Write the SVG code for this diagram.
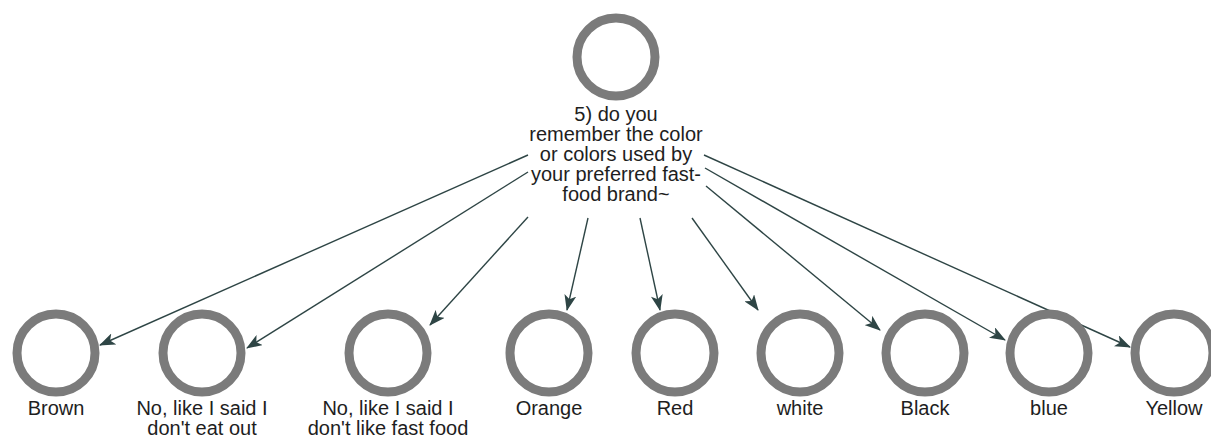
<svg xmlns="http://www.w3.org/2000/svg" width="1211" height="443" viewBox="0 0 1211 443">
<style>
.ring{fill:#fff;stroke:#7b7b7b;stroke-width:9}
.lbl{font-family:"Liberation Sans",Arial,sans-serif;font-size:20px;fill:#1e1e1e;text-anchor:middle}
.edge{stroke:#2e4545;stroke-width:1.4;fill:none;marker-end:url(#ah)}
</style>
<defs>
<marker id="ah" markerUnits="userSpaceOnUse" markerWidth="16" markerHeight="12" viewBox="0 0 16 12" refX="15" refY="6" orient="auto">
<path d="M0,0 L16,6 L0,12 L4,6 Z" fill="#2e4545"/>
</marker>
</defs>
<rect width="1211" height="443" fill="#fff"/>
<g id="connectors">
<line class="edge" x1="528" y1="155" x2="100" y2="345"/>
<line class="edge" x1="528" y1="172" x2="247" y2="348"/>
<line class="edge" x1="528" y1="217" x2="430" y2="325"/>
<line class="edge" x1="588" y1="218" x2="567" y2="310"/>
<line class="edge" x1="640" y1="218" x2="660" y2="310"/>
<line class="edge" x1="692" y1="218" x2="758" y2="310"/>
<line class="edge" x1="706" y1="186" x2="880" y2="330"/>
<line class="edge" x1="705" y1="168" x2="1005" y2="340"/>
<line class="edge" x1="704" y1="155" x2="1130" y2="347"/>
</g>
<g id="root">
<circle class="ring" cx="616" cy="57" r="39"/>
<text class="lbl" x="616" y="121">5) do you</text>
<text class="lbl" x="616" y="141">remember the color</text>
<text class="lbl" x="616" y="161">or colors used by</text>
<text class="lbl" x="616" y="181">your preferred fast-</text>
<text class="lbl" x="616" y="201">food brand~</text>
</g>
<g id="n-brown"><circle class="ring" cx="56" cy="353" r="39"/><text class="lbl" x="56" y="415">Brown</text></g>
<g id="n-eatout"><circle class="ring" cx="202" cy="353" r="39"/><text class="lbl" x="202" y="415">No, like I said I</text><text class="lbl" x="202" y="435">don't eat out</text></g>
<g id="n-fastfood"><circle class="ring" cx="388" cy="353" r="39"/><text class="lbl" x="388" y="415">No, like I said I</text><text class="lbl" x="388" y="435">don't like fast food</text></g>
<g id="n-orange"><circle class="ring" cx="549" cy="353" r="39"/><text class="lbl" x="549" y="415">Orange</text></g>
<g id="n-red"><circle class="ring" cx="675" cy="353" r="39"/><text class="lbl" x="675" y="415">Red</text></g>
<g id="n-white"><circle class="ring" cx="800" cy="353" r="39"/><text class="lbl" x="800" y="415">white</text></g>
<g id="n-black"><circle class="ring" cx="925" cy="353" r="39"/><text class="lbl" x="925" y="415">Black</text></g>
<g id="n-blue"><circle class="ring" cx="1049" cy="353" r="39"/><text class="lbl" x="1049" y="415">blue</text></g>
<g id="n-yellow"><circle class="ring" cx="1174" cy="353" r="39"/><text class="lbl" x="1174" y="415">Yellow</text></g>
</svg>
